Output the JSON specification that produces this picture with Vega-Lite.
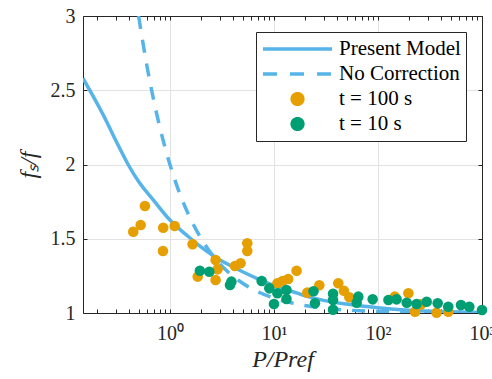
{
  "$schema": "https://vega.github.io/schema/vega-lite/v6.json",
  "width": 399,
  "height": 297,
  "autosize": "none",
  "padding": {"left": 83, "top": 16, "right": 10, "bottom": 66},
  "background": "white",
  "config": {
    "view": {"stroke": null},
    "font": "Liberation Serif",
    "axis": {
      "labelFont": "Liberation Serif",
      "titleFont": "Liberation Serif",
      "labelFontSize": 20,
      "labelColor": "#262626",
      "titleColor": "#262626",
      "domainColor": "#262626",
      "tickColor": "#262626",
      "gridColor": "#e2e2e2",
      "domainWidth": 1,
      "tickWidth": 1,
      "tickSize": -4
    }
  },
  "data": {"values": [
    {"series": "Present Model", "P": 0.146, "f": 2.58},
    {"series": "Present Model", "P": 0.2, "f": 2.41},
    {"series": "Present Model", "P": 0.25, "f": 2.28},
    {"series": "Present Model", "P": 0.3, "f": 2.165},
    {"series": "Present Model", "P": 0.4, "f": 1.995},
    {"series": "Present Model", "P": 0.5, "f": 1.885},
    {"series": "Present Model", "P": 0.7, "f": 1.757},
    {"series": "Present Model", "P": 1.0, "f": 1.626},
    {"series": "Present Model", "P": 1.5, "f": 1.515},
    {"series": "Present Model", "P": 2.0, "f": 1.443},
    {"series": "Present Model", "P": 3.0, "f": 1.358},
    {"series": "Present Model", "P": 4.0, "f": 1.312},
    {"series": "Present Model", "P": 5.0, "f": 1.278},
    {"series": "Present Model", "P": 7.0, "f": 1.23},
    {"series": "Present Model", "P": 10, "f": 1.185},
    {"series": "Present Model", "P": 15, "f": 1.145},
    {"series": "Present Model", "P": 20, "f": 1.115},
    {"series": "Present Model", "P": 30, "f": 1.085},
    {"series": "Present Model", "P": 50, "f": 1.06},
    {"series": "Present Model", "P": 100, "f": 1.035},
    {"series": "Present Model", "P": 200, "f": 1.018},
    {"series": "Present Model", "P": 500, "f": 1.008},
    {"series": "Present Model", "P": 1000, "f": 1.003},
    {"series": "No Correction", "P": 0.5, "f": 3.0},
    {"series": "No Correction", "P": 0.6, "f": 2.667},
    {"series": "No Correction", "P": 0.7, "f": 2.429},
    {"series": "No Correction", "P": 0.8, "f": 2.25},
    {"series": "No Correction", "P": 0.9, "f": 2.111},
    {"series": "No Correction", "P": 1.0, "f": 2.0},
    {"series": "No Correction", "P": 1.2, "f": 1.833},
    {"series": "No Correction", "P": 1.5, "f": 1.667},
    {"series": "No Correction", "P": 2.0, "f": 1.5},
    {"series": "No Correction", "P": 2.5, "f": 1.4},
    {"series": "No Correction", "P": 3.0, "f": 1.333},
    {"series": "No Correction", "P": 4.0, "f": 1.25},
    {"series": "No Correction", "P": 5.0, "f": 1.2},
    {"series": "No Correction", "P": 7.0, "f": 1.143},
    {"series": "No Correction", "P": 10, "f": 1.1},
    {"series": "No Correction", "P": 15, "f": 1.067},
    {"series": "No Correction", "P": 20, "f": 1.05},
    {"series": "No Correction", "P": 30, "f": 1.033},
    {"series": "No Correction", "P": 50, "f": 1.02},
    {"series": "No Correction", "P": 100, "f": 1.01},
    {"series": "No Correction", "P": 200, "f": 1.005},
    {"series": "No Correction", "P": 500, "f": 1.002},
    {"series": "No Correction", "P": 1000, "f": 1.001},
    {"series": "t = 100 s", "P": 0.444, "f": 1.547},
    {"series": "t = 100 s", "P": 0.523, "f": 1.593},
    {"series": "t = 100 s", "P": 0.575, "f": 1.72},
    {"series": "t = 100 s", "P": 0.862, "f": 1.574},
    {"series": "t = 100 s", "P": 0.857, "f": 1.418},
    {"series": "t = 100 s", "P": 1.11, "f": 1.586},
    {"series": "t = 100 s", "P": 1.65, "f": 1.463},
    {"series": "t = 100 s", "P": 1.85, "f": 1.245},
    {"series": "t = 100 s", "P": 2.75, "f": 1.357},
    {"series": "t = 100 s", "P": 2.87, "f": 1.294},
    {"series": "t = 100 s", "P": 2.75, "f": 1.222},
    {"series": "t = 100 s", "P": 4.22, "f": 1.316},
    {"series": "t = 100 s", "P": 4.78, "f": 1.335},
    {"series": "t = 100 s", "P": 5.54, "f": 1.469},
    {"series": "t = 100 s", "P": 5.54, "f": 1.418},
    {"series": "t = 100 s", "P": 10.8, "f": 1.2},
    {"series": "t = 100 s", "P": 12.1, "f": 1.215},
    {"series": "t = 100 s", "P": 13.7, "f": 1.229},
    {"series": "t = 100 s", "P": 16.5, "f": 1.285},
    {"series": "t = 100 s", "P": 20.9, "f": 1.137},
    {"series": "t = 100 s", "P": 27.3, "f": 1.187},
    {"series": "t = 100 s", "P": 41.5, "f": 1.2},
    {"series": "t = 100 s", "P": 47, "f": 1.15},
    {"series": "t = 100 s", "P": 53, "f": 1.106},
    {"series": "t = 100 s", "P": 145, "f": 1.11},
    {"series": "t = 100 s", "P": 196, "f": 1.133},
    {"series": "t = 100 s", "P": 227, "f": 1.009},
    {"series": "t = 100 s", "P": 258, "f": 1.058},
    {"series": "t = 100 s", "P": 366, "f": 1.002},
    {"series": "t = 100 s", "P": 474, "f": 1.009},
    {"series": "t = 10 s", "P": 1.94, "f": 1.285},
    {"series": "t = 10 s", "P": 2.39, "f": 1.278},
    {"series": "t = 10 s", "P": 3.78, "f": 1.189},
    {"series": "t = 10 s", "P": 3.9, "f": 1.211},
    {"series": "t = 10 s", "P": 7.62, "f": 1.215},
    {"series": "t = 10 s", "P": 9.02, "f": 1.166},
    {"series": "t = 10 s", "P": 10.0, "f": 1.061},
    {"series": "t = 10 s", "P": 10.8, "f": 1.133},
    {"series": "t = 10 s", "P": 13.2, "f": 1.155},
    {"series": "t = 10 s", "P": 13.2, "f": 1.094},
    {"series": "t = 10 s", "P": 24, "f": 1.147},
    {"series": "t = 10 s", "P": 24.8, "f": 1.065},
    {"series": "t = 10 s", "P": 37, "f": 1.13},
    {"series": "t = 10 s", "P": 37, "f": 1.087},
    {"series": "t = 10 s", "P": 37, "f": 1.022},
    {"series": "t = 10 s", "P": 64.7, "f": 1.11},
    {"series": "t = 10 s", "P": 62.4, "f": 1.069},
    {"series": "t = 10 s", "P": 88.9, "f": 1.092},
    {"series": "t = 10 s", "P": 126, "f": 1.088},
    {"series": "t = 10 s", "P": 151, "f": 1.092},
    {"series": "t = 10 s", "P": 189, "f": 1.069},
    {"series": "t = 10 s", "P": 235, "f": 1.061},
    {"series": "t = 10 s", "P": 294, "f": 1.076},
    {"series": "t = 10 s", "P": 375, "f": 1.065},
    {"series": "t = 10 s", "P": 474, "f": 1.042},
    {"series": "t = 10 s", "P": 628, "f": 1.054},
    {"series": "t = 10 s", "P": 755, "f": 1.042},
    {"series": "t = 10 s", "P": 1000, "f": 1.02}
  ]},
  "resolve": {"axis": {"x": "independent", "y": "independent"}},
  "layer": [
    {
      "transform": [{"filter": "datum.series === 'Present Model'"}],
      "mark": {"type": "line", "strokeWidth": 3.5, "interpolate": "monotone", "clip": true},
      "encoding": {
        "x": {"field": "P", "type": "quantitative",
          "scale": {"type": "log", "domain": [0.146, 1000], "nice": false},
          "axis": {"orient": "bottom", "title": "P/Pref", "titleFontStyle": "italic", "titleFontWeight": "normal", "titleFontSize": 24, "titlePadding": 4,
            "values": [0.2,0.3,0.4,0.5,0.6,0.7,0.8,0.9,1,2,3,4,5,6,7,8,9,10,20,30,40,50,60,70,80,90,100,200,300,400,500,600,700,800,900,1000],
            "labelExpr": "datum.value == 1 ? '10⁰' : datum.value == 10 ? '10¹' : datum.value == 100 ? '10²' : datum.value == 1000 ? '10³' : ''",
            "labelPadding": 14, "labelFlush": false, "labelOverlap": false, "labelBound": false,
            "grid": true,
            "gridOpacity": {"condition": {"test": "datum.value == 1 || datum.value == 10 || datum.value == 100 || datum.value == 1000", "value": 1}, "value": 0}
          }},
        "y": {"field": "f", "type": "quantitative",
          "scale": {"domain": [1, 3], "nice": false, "zero": false},
          "axis": {"orient": "left", "title": "fₛ/f", "titleFontStyle": "italic", "titleFontWeight": "normal", "titleFontSize": 24, "titlePadding": 10,
            "values": [1, 1.5, 2, 2.5, 3], "labelExpr": "format(datum.value, '~g')", "labelPadding": 12, "grid": true}},
        "color": {"field": "series", "type": "nominal",
          "scale": {"domain": ["Present Model", "No Correction", "t = 100 s", "t = 10 s"], "range": ["#56B4E9", "#56B4E9", "#E69F00", "#009E73"]},
          "legend": {
            "title": null, "orient": "none", "legendX": 173, "legendY": 16,
            "columns": 1, "symbolType": "stroke", "symbolSize": 4761, "symbolStrokeWidth": 3.5,
            "clipHeight": 24, "rowPadding": 1, "padding": 5, "labelOffset": 5, "symbolOffset": 0,
            "labelFont": "Liberation Serif", "labelFontSize": 21, "labelColor": "#000000",
            "strokeColor": "#262626", "fillColor": "white", "cornerRadius": 0,
            "encode": {
              "symbols": {"update": {
                "shape": {"signal": "indexof(['t = 100 s', 't = 10 s'], datum.value) >= 0 ? 'M -0.155 0 A 0.155 0.155 0 1 0 0.155 0 A 0.155 0.155 0 1 0 -0.155 0 Z' : 'stroke'"},
                "size": {"value": 4761},
                "fill": {"signal": "indexof(['t = 100 s', 't = 10 s'], datum.value) >= 0 ? scale('color', datum.value) : 'transparent'"},
                "stroke": {"signal": "indexof(['t = 100 s', 't = 10 s'], datum.value) >= 0 ? 'transparent' : scale('color', datum.value)"},
                "strokeWidth": {"value": 3.5},
                "strokeDash": {"signal": "datum.value === 'No Correction' ? [14, 13] : [1, 0]"},
                "opacity": {"value": 1}
              }}
            }
          }}
      }
    },
    {
      "transform": [{"filter": "datum.series === 'No Correction'"}],
      "mark": {"type": "line", "strokeWidth": 3.5, "strokeDash": [13, 11], "interpolate": "monotone", "clip": true},
      "encoding": {
        "x": {"field": "P", "type": "quantitative",
          "scale": {"type": "log", "domain": [0.146, 1000], "nice": false},
          "axis": {"orient": "top", "title": null, "labels": false, "grid": false,
            "values": [0.2,0.3,0.4,0.5,0.6,0.7,0.8,0.9,1,2,3,4,5,6,7,8,9,10,20,30,40,50,60,70,80,90,100,200,300,400,500,600,700,800,900,1000]}},
        "y": {"field": "f", "type": "quantitative",
          "scale": {"domain": [1, 3], "nice": false, "zero": false},
          "axis": {"orient": "right", "title": null, "labels": false, "grid": false, "values": [1, 1.5, 2, 2.5, 3]}},
        "color": {"field": "series", "type": "nominal"}
      }
    },
    {
      "transform": [{"filter": "datum.series === 't = 100 s'"}],
      "mark": {"type": "circle", "size": 112, "opacity": 1},
      "encoding": {
        "x": {"field": "P", "type": "quantitative", "scale": {"type": "log", "domain": [0.146, 1000], "nice": false}, "axis": null},
        "y": {"field": "f", "type": "quantitative", "scale": {"domain": [1, 3], "nice": false, "zero": false}, "axis": null},
        "color": {"field": "series", "type": "nominal"}
      }
    },
    {
      "transform": [{"filter": "datum.series === 't = 10 s'"}],
      "mark": {"type": "circle", "size": 112, "opacity": 1},
      "encoding": {
        "x": {"field": "P", "type": "quantitative", "scale": {"type": "log", "domain": [0.146, 1000], "nice": false}, "axis": null},
        "y": {"field": "f", "type": "quantitative", "scale": {"domain": [1, 3], "nice": false, "zero": false}, "axis": null},
        "color": {"field": "series", "type": "nominal"}
      }
    }
  ]
}
